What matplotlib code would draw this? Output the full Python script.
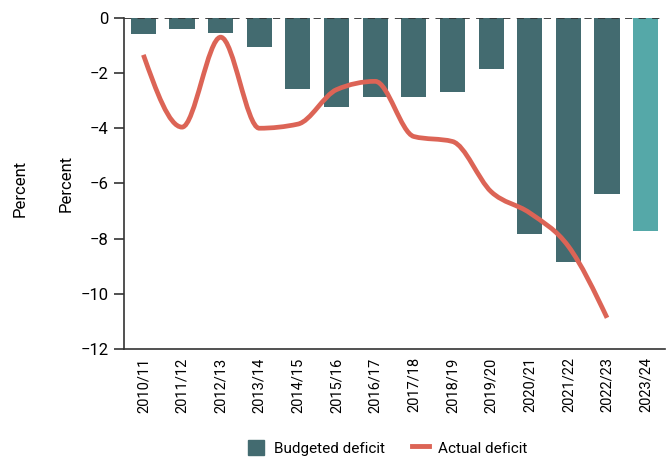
import numpy as np
import matplotlib.pyplot as plt
from matplotlib.path import Path
from matplotlib.patches import PathPatch, Patch
from matplotlib.lines import Line2D

plt.rcParams['font.family'] = ['Roboto', 'DejaVu Sans']

# данные
years = ['2010/11', '2011/12', '2012/13', '2013/14', '2014/15', '2015/16', '2016/17',
         '2017/18', '2018/19', '2019/20', '2020/21', '2021/22', '2022/23', '2023/24']
budgeted = [-0.59, -0.41, -0.54, -1.05, -2.57, -3.22, -2.86,
            -2.86, -2.67, -1.87, -7.85, -8.83, -6.4, -7.74]
actual = [-1.34, -3.96, -0.7, -4.0, -3.85, -2.6, -2.3,
          -4.3, -4.48, -6.3, -7.07, -8.28, -10.87]

dark = '#436b70'
light = '#55a8a8'
red = '#dc6456'


def monotone_path(xs, ys):
    # монотонная кубическая кривая (как d3 curveMonotoneX) в виде сегментов Безье
    xs = np.asarray(xs, float)
    ys = np.asarray(ys, float)
    n = len(xs)
    h = np.diff(xs)
    s = np.diff(ys) / h
    t = np.zeros(n)
    for i in range(1, n - 1):
        p = (s[i - 1] * h[i] + s[i] * h[i - 1]) / (h[i - 1] + h[i])
        t[i] = (np.sign(s[i - 1]) + np.sign(s[i])) * min(abs(s[i - 1]), abs(s[i]), 0.5 * abs(p))
    t[0] = (3 * s[0] - t[1]) / 2
    t[-1] = (3 * s[-1] - t[-2]) / 2
    verts = [(xs[0], ys[0])]
    codes = [Path.MOVETO]
    for i in range(n - 1):
        dx = h[i] / 3
        verts += [(xs[i] + dx, ys[i] + dx * t[i]),
                  (xs[i + 1] - dx, ys[i + 1] - dx * t[i + 1]),
                  (xs[i + 1], ys[i + 1])]
        codes += [Path.CURVE4] * 3
    return Path(verts, codes)


fig = plt.figure(figsize=(6.67, 4.58), dpi=100)
ax = fig.add_axes([0.186, 0.238, 0.811, 0.723])

x = np.arange(len(years))
colors = [dark] * (len(years) - 1) + [light]
ax.bar(x, budgeted, width=0.65, color=colors, zorder=2)

ax.add_patch(PathPatch(monotone_path(np.arange(len(actual)), actual), facecolor='none',
                       edgecolor=red, lw=3.4, capstyle='butt', zorder=3))

ax.axhline(0, color='#333333', lw=1.3, ls=(0, (4, 3.5)), zorder=4)

ax.set_xlim(-0.5, len(years) - 0.5)
ax.set_ylim(-12, 0)
ax.set_yticks(np.arange(-12, 1, 2))
ax.set_yticklabels(['−12', '−10', '−8', '−6', '−4', '−2', '0'])
ax.set_xticks(x)
ax.set_xticklabels(years, rotation=90)
ax.tick_params(axis='y', labelsize=12, length=7, width=1.2, color='#333333', pad=4)
ax.tick_params(axis='x', labelsize=10.5, length=0, pad=6)

for s in ['top', 'right']:
    ax.spines[s].set_visible(False)
for s in ['left', 'bottom']:
    ax.spines[s].set_color('#333333')
    ax.spines[s].set_linewidth(1.2)

fig.text(0.099, 0.60, 'Percent', rotation=90, fontsize=12, ha='center', va='center')
fig.text(0.030, 0.588, 'Percent', rotation=90, fontsize=12, ha='center', va='center')

handles = [Patch(color=dark, label='Budgeted deficit'),
           Line2D([0], [0], color=red, lw=3.5, label='Actual deficit')]
fig.legend(handles=handles, loc='lower center', bbox_to_anchor=(0.581, -0.025), ncol=2,
           frameon=False, fontsize=11, handlelength=1.1, handleheight=1.2,
           handletextpad=0.6, columnspacing=1.8)

plt.savefig('out.png', dpi=100)
